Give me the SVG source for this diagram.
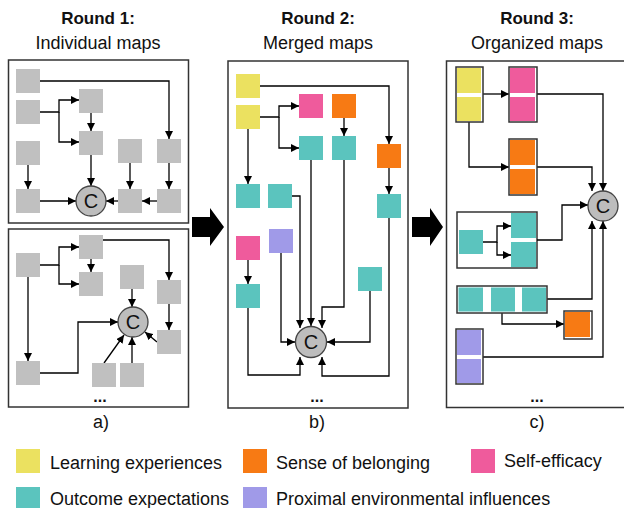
<svg xmlns="http://www.w3.org/2000/svg" width="624" height="508" viewBox="0 0 624 508">
<defs>
<marker id="ah" viewBox="0 0 10 10" refX="10" refY="5" markerWidth="8" markerHeight="8" markerUnits="userSpaceOnUse" orient="auto"><path d="M0,0 L10,5 L0,10 Z" fill="#000"/></marker>
</defs>
<style>
.panel{fill:#fff;stroke:#333;stroke-width:1.5}
.g{fill:#c0c0c0}
.y{fill:#ebe160}
.o{fill:#f77a14}
.p{fill:#ef5b9c}
.t{fill:#5bc4be}
.l{fill:#a09ae8}
.cc{fill:#bdbdbd;stroke:#444;stroke-width:1.3}
.ob{fill:#fff;stroke:#333;stroke-width:1.5}
.gb{fill:none;stroke:#333;stroke-width:1.5}
.e{fill:none;stroke:#000;stroke-width:1.3;marker-end:url(#ah)}
.ct{font-family:"Liberation Sans",Arial,sans-serif;font-size:20px;fill:#111;text-anchor:middle}
.tt{font-family:"Liberation Sans",Arial,sans-serif;font-size:18px;fill:#111;text-anchor:middle}
.tb{font-family:"Liberation Sans",Arial,sans-serif;font-size:17px;font-weight:bold;fill:#111;text-anchor:middle}
.lg{font-family:"Liberation Sans",Arial,sans-serif;font-size:18px;fill:#111}
.dots{font-family:"Liberation Sans",Arial,sans-serif;font-size:16px;font-weight:bold;fill:#111;text-anchor:middle}
.big{fill:#000}
</style>

<g id="titles">
<text class="tb" x="98" y="24">Round 1:</text>
<text class="tt" x="98" y="49">Individual maps</text>
<text class="tb" x="318" y="24">Round 2:</text>
<text class="tt" x="318" y="49">Merged maps</text>
<text class="tb" x="537" y="24">Round 3:</text>
<text class="tt" x="537" y="49">Organized maps</text>
</g>

<g id="panels">
<rect class="panel" x="8.5" y="60" width="180" height="163"/>
<rect class="panel" x="8.5" y="229" width="180" height="178"/>
<rect class="panel" x="228" y="61" width="180" height="347"/>
<rect class="panel" x="446.5" y="61" width="190" height="346.5"/>
<text class="dots" x="100" y="402">...</text>
<text class="dots" x="317" y="402">...</text>
<text class="dots" x="537" y="402">...</text>
<text class="tt" x="101" y="428">a)</text>
<text class="tt" x="317" y="428">b)</text>
<text class="tt" x="537" y="428">c)</text>
</g>

<g id="big-arrows">
<polygon class="big" points="192,217 210,217 210,208 224,227 210,246 210,237 192,237"/>
<polygon class="big" points="412,217 430,217 430,208 443,227 430,246 430,237 412,237"/>
</g>

<!-- panel c group frames (behind connectors) -->
<g id="c-tgroup-frame"><rect class="gb" x="457" y="212" width="80" height="56"/></g>

<g id="connectors">
<path class="e" d="M40,81 H169 V139"/>
<path class="e" d="M40,112 H59 V100 H79"/>
<path class="e" d="M59,112 V142 H79"/>
<path class="e" d="M91,113 V131"/>
<path class="e" d="M91,155 V186"/>
<path class="e" d="M28,165 V189"/>
<path class="e" d="M40,201 H76"/>
<path class="e" d="M130,163 V189"/>
<path class="e" d="M169,163 V189"/>
<path class="e" d="M157,201 H142"/>
<path class="e" d="M118,201 H106"/>
<path class="e" d="M40,265 H59 V247 H79"/>
<path class="e" d="M59,265 V284 H79"/>
<path class="e" d="M91,259 V272"/>
<path class="e" d="M103,240 H169 V280"/>
<path class="e" d="M169,304 V330"/>
<path class="e" d="M132,289 V307"/>
<path class="e" d="M28,277 V361"/>
<path class="e" d="M40,373 H78 V322 H118"/>
<path class="e" d="M104,363 L124,335"/>
<path class="e" d="M132,363 V337"/>
<path class="e" d="M157,342 L145,332"/>
<path class="e" d="M260,86 H389 V144"/>
<path class="e" d="M260,117 H279 V106 H299"/>
<path class="e" d="M279,117 V148 H299"/>
<path class="e" d="M344,118 V136"/>
<path class="e" d="M389,168 V194"/>
<path class="e" d="M248,129 V184"/>
<path class="e" d="M248,260 V284"/>
<path class="e" d="M292,196 H300 V328"/>
<path class="e" d="M311,160 V326"/>
<path class="e" d="M344,160 V307 H322 V328"/>
<path class="e" d="M281,253 V342 H295"/>
<path class="e" d="M370,291 V342 H327"/>
<path class="e" d="M248,308 V375 H300 V357"/>
<path class="e" d="M389,218 V376 H322 V357"/>
<path class="e" d="M483,94 H509"/>
<path class="e" d="M469,122 V167 H509"/>
<path class="e" d="M537,94 H603 V191"/>
<path class="e" d="M537,167 H592 V191"/>
<path class="e" d="M483,242 H497 V226 H511"/>
<path class="e" d="M497,242 V255 H511"/>
<path class="e" d="M537,240 H562 V205 H588"/>
<path class="e" d="M547,299 H592 V221"/>
<path class="e" d="M502,313 V324 H564"/>
<path class="e" d="M483,357 H603 V221"/>
</g>

<g id="a1"><rect class="g" x="16" y="69" width="24" height="24"/></g>
<g id="a2"><rect class="g" x="16" y="100" width="24" height="24"/></g>
<g id="a3"><rect class="g" x="16" y="141" width="24" height="24"/></g>
<g id="a4"><rect class="g" x="16" y="189" width="24" height="24"/></g>
<g id="a5"><rect class="g" x="79" y="89" width="24" height="24"/></g>
<g id="a6"><rect class="g" x="79" y="131" width="24" height="24"/></g>
<g id="a7"><rect class="g" x="118" y="139" width="24" height="24"/></g>
<g id="a8"><rect class="g" x="157" y="139" width="24" height="24"/></g>
<g id="a9"><rect class="g" x="118" y="189" width="24" height="24"/></g>
<g id="a10"><rect class="g" x="157" y="189" width="24" height="24"/></g>
<g id="aC"><circle class="cc" cx="91" cy="201" r="15"/><text class="ct" x="91" y="208">C</text></g>

<g id="b1"><rect class="g" x="16" y="253" width="24" height="24"/></g>
<g id="b2"><rect class="g" x="79" y="235" width="24" height="24"/></g>
<g id="b3"><rect class="g" x="79" y="272" width="24" height="24"/></g>
<g id="b4"><rect class="g" x="120" y="265" width="24" height="24"/></g>
<g id="b5"><rect class="g" x="157" y="280" width="24" height="24"/></g>
<g id="b6"><rect class="g" x="157" y="330" width="24" height="24"/></g>
<g id="b7"><rect class="g" x="16" y="361" width="24" height="24"/></g>
<g id="b8"><rect class="g" x="92" y="363" width="24" height="24"/></g>
<g id="b9"><rect class="g" x="120" y="363" width="24" height="24"/></g>
<g id="bC"><circle class="cc" cx="133" cy="322" r="15"/><text class="ct" x="133" y="329">C</text></g>

<g id="m-y1"><rect class="y" x="236" y="74" width="24" height="24"/></g>
<g id="m-y2"><rect class="y" x="236" y="105" width="24" height="24"/></g>
<g id="m-p1"><rect class="p" x="299" y="94" width="24" height="24"/></g>
<g id="m-o1"><rect class="o" x="332" y="94" width="24" height="24"/></g>
<g id="m-t1"><rect class="t" x="299" y="136" width="24" height="24"/></g>
<g id="m-t2"><rect class="t" x="332" y="136" width="24" height="24"/></g>
<g id="m-o2"><rect class="o" x="377" y="144" width="24" height="24"/></g>
<g id="m-t3"><rect class="t" x="377" y="194" width="24" height="24"/></g>
<g id="m-t4"><rect class="t" x="236" y="184" width="24" height="24"/></g>
<g id="m-t5"><rect class="t" x="268" y="184" width="24" height="24"/></g>
<g id="m-p2"><rect class="p" x="236" y="236" width="24" height="24"/></g>
<g id="m-l1"><rect class="l" x="269" y="229" width="24" height="24"/></g>
<g id="m-t6"><rect class="t" x="236" y="284" width="24" height="24"/></g>
<g id="m-t7"><rect class="t" x="358" y="267" width="24" height="24"/></g>
<g id="mC"><circle class="cc" cx="311" cy="342" r="15.5"/><text class="ct" x="311" y="349">C</text></g>

<g id="c-y"><rect class="ob" x="456" y="67" width="27" height="55"/><rect class="y" x="457" y="68" width="24" height="25"/><rect class="y" x="457" y="97" width="24" height="24"/></g>
<g id="c-p"><rect class="ob" x="509" y="67" width="28" height="55"/><rect class="p" x="510" y="68" width="25" height="25"/><rect class="p" x="510" y="97" width="25" height="24"/></g>
<g id="c-o"><rect class="ob" x="509" y="139" width="28" height="56"/><rect class="o" x="510" y="140" width="25" height="25"/><rect class="o" x="510" y="169" width="25" height="25"/></g>
<g id="c-tgroup"><rect class="t" x="459" y="230" width="24" height="24"/><rect class="t" x="511" y="213" width="25" height="25"/><rect class="t" x="511" y="242" width="25" height="25"/></g>
<g id="c-ttriple"><rect class="ob" x="457" y="286" width="90" height="27"/><rect class="t" x="458.5" y="287.5" width="24.5" height="24"/><rect class="t" x="491" y="287.5" width="24" height="24"/><rect class="t" x="522" y="287.5" width="24" height="24"/></g>
<g id="c-o2"><rect class="ob" x="564" y="311" width="28" height="28"/><rect class="o" x="565" y="312" width="25" height="25"/></g>
<g id="c-l"><rect class="ob" x="456" y="329" width="27" height="55"/><rect class="l" x="457" y="330" width="24" height="25"/><rect class="l" x="457" y="359" width="24" height="24"/></g>
<g id="cC"><circle class="cc" cx="603" cy="206" r="15"/><text class="ct" x="603" y="213">C</text></g>

<g id="legend">
<rect class="y" x="16" y="449" width="24" height="24"/>
<text class="lg" x="50" y="469">Learning experiences</text>
<rect class="o" x="243" y="449" width="24" height="24"/>
<text class="lg" x="276" y="469">Sense of belonging</text>
<rect class="p" x="471" y="449" width="24" height="24"/>
<text class="lg" x="504" y="467">Self-efficacy</text>
<rect class="t" x="16" y="487" width="24" height="24"/>
<text class="lg" x="50" y="505">Outcome expectations</text>
<rect class="l" x="243" y="487" width="24" height="24"/>
<text class="lg" x="276" y="505">Proximal environmental influences</text>
</g>
</svg>
